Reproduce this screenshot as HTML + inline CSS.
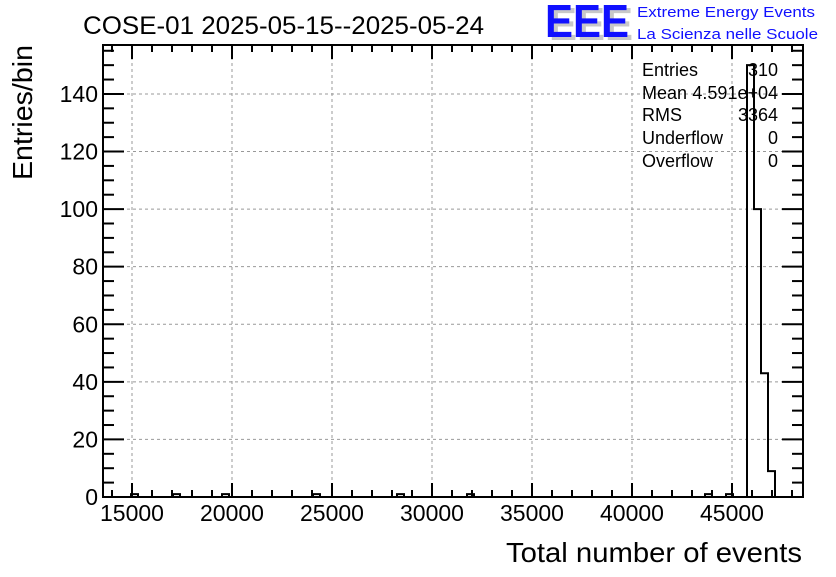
<!DOCTYPE html>
<html><head><meta charset="utf-8"><style>
body{margin:0;background:#fff;}
svg text{font-family:"Liberation Sans",sans-serif;}
</style></head><body>
<svg id="chart" width="836" height="572" xmlns="http://www.w3.org/2000/svg">
<text x="83" y="34" font-size="25" textLength="401" lengthAdjust="spacingAndGlyphs">COSE-01 2025-05-15--2025-05-24</text>
<g>
<text x="549" y="40" font-size="46" font-weight="bold" fill="#c8c8c8" textLength="84" lengthAdjust="spacingAndGlyphs">EEE</text>
<text x="545" y="37" font-size="46" font-weight="bold" fill="#1010ff" textLength="84" lengthAdjust="spacingAndGlyphs">EEE</text>
<text x="637" y="17" font-size="15" fill="#1010ff" textLength="178" lengthAdjust="spacingAndGlyphs">Extreme Energy Events</text>
<text x="637" y="39" font-size="15" fill="#1010ff" textLength="181" lengthAdjust="spacingAndGlyphs">La Scienza nelle Scuole</text>
</g>
<g id="grid"></g>
<g id="ticks"></g>
<path id="hist" fill="none" stroke="#000" stroke-width="2"/>
<rect x="103" y="45" width="700" height="452" fill="none" stroke="#000" stroke-width="2"/>
<g font-size="18">
<text x="642" y="76">Entries</text><text x="778" y="76" text-anchor="end">310</text>
<text x="642" y="99">Mean</text><text x="778" y="99" text-anchor="end">4.591e+04</text>
<text x="642" y="121">RMS</text><text x="778" y="121" text-anchor="end">3364</text>
<text x="642" y="144">Underflow</text><text x="778" y="144" text-anchor="end">0</text>
<text x="642" y="167">Overflow</text><text x="778" y="167" text-anchor="end">0</text>
</g>
<text x="802" y="562" font-size="28" text-anchor="end" textLength="296" lengthAdjust="spacingAndGlyphs">Total number of events</text>
<text transform="translate(32,45) rotate(-90)" font-size="28" text-anchor="end" textLength="135" lengthAdjust="spacingAndGlyphs">Entries/bin</text>
</svg>
<script>
const binStarts=[14950,17050,19500,24050,28250,31750,43650,44700,45750,46100,46450,46800];
const counts=[1,1,1,1,1,1,1,1,150,100,43,9];
const binWidth=350;
const xTicks=[15000,20000,25000,30000,35000,40000,45000];
const yTicks=[0,20,40,60,80,100,120,140];
const X0=13550,X1=48550,Y0=0,Y1=157;
const L=103,R=803,T=45,B=497;
const sx=v=>L+(v-X0)/(X1-X0)*(R-L);
const sy=v=>B-(v-Y0)/(Y1-Y0)*(B-T);
const NS="http://www.w3.org/2000/svg";
const grid=document.getElementById('grid'),ticks=document.getElementById('ticks');
function ln(g,x1,y1,x2,y2,st,w,dash){const l=document.createElementNS(NS,'line');l.setAttribute('x1',x1);l.setAttribute('y1',y1);l.setAttribute('x2',x2);l.setAttribute('y2',y2);l.setAttribute('stroke',st);l.setAttribute('stroke-width',w);if(dash)l.setAttribute('stroke-dasharray',dash);g.appendChild(l);return l;}
function tx(x,y,s,anchor,name){const t=document.createElementNS(NS,'text');t.setAttribute('x',x);t.setAttribute('y',y);t.setAttribute('font-size','23');t.setAttribute('text-anchor',anchor);t.textContent=s;


ticks.appendChild(t);}
xTicks.forEach(v=>{const x=sx(v);const g=ln(grid,x,T,x,B,'#999',1,'3,3');


ln(ticks,x,B,x,B-14,'#000',2);ln(ticks,x,T,x,T+14,'#000',2);tx(x,521,String(v),'middle','x-tick-label');});
for(let v=14000;v<=48000;v+=1000){if(v%5000===0)continue;const x=sx(v);ln(ticks,x,B,x,B-7,'#000',2);ln(ticks,x,T,x,T+7,'#000',2);}
yTicks.forEach(v=>{const y=sy(v);if(v>0){const g=ln(grid,L,y,R,y,'#999',1,'3,3');

}
ln(ticks,L,y,L+21,y,'#000',2);ln(ticks,R,y,R-21,y,'#000',2);tx(L-5,y+8,String(v),'end','y-tick-label');});
for(let v=5;v<Y1;v+=5){if(v%20===0)continue;const y=sy(v);ln(ticks,L,y,L+11,y,'#000',2);ln(ticks,R,y,R-11,y,'#000',2);}
let d='M'+sx(X0)+','+sy(0);
const full=new Array(100).fill(0);
binStarts.forEach((s,i)=>{const k=Math.round((s-X0)/binWidth);if(k>=0&&k<100)full[k]+=counts[i];});
for(let k=0;k<100;k++){const a=X0+k*binWidth;d+=' L'+sx(a)+','+sy(full[k])+' L'+sx(a+binWidth)+','+sy(full[k]);}
document.getElementById('hist').setAttribute('d',d);
</script>
</body></html>
